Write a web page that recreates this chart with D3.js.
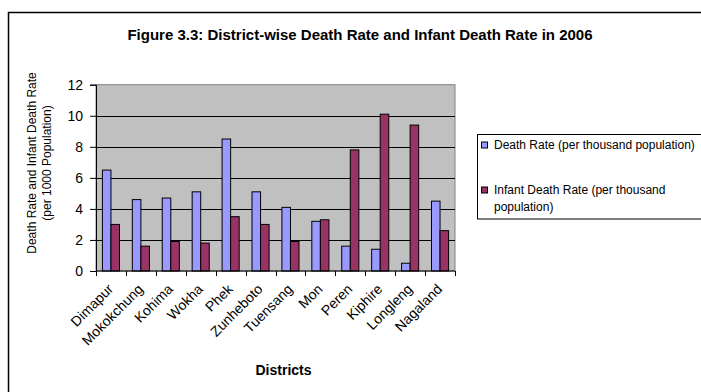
<!DOCTYPE html>
<html>
<head>
<meta charset="utf-8">
<script src="https://cdn.jsdelivr.net/npm/d3@7"></script>
<style>
  html, body { margin: 0; padding: 0; background: #fff; }
  svg { display: block; font-family: Arial, "Liberation Sans", sans-serif; }
</style>
</head>
<body>
<svg id="chart" width="701" height="392"></svg>
<script>
// District-wise death rate and infant death rate, Nagaland 2006
const districts = ["Dimapur", "Mokokchung", "Kohima", "Wokha", "Phek", "Zunheboto",
                   "Tuensang", "Mon", "Peren", "Kiphire", "Longleng", "Nagaland"];
const deathRate = [6.5, 4.6, 4.7, 5.1, 8.5, 5.1, 4.1, 3.2, 1.6, 1.4, 0.5, 4.5];
const infantDeathRate = [3.0, 1.6, 1.9, 1.8, 3.5, 3.0, 1.9, 3.3, 7.8, 10.1, 9.4, 2.6];
const yTicks = [0, 2, 4, 6, 8, 10, 12];
const seriesNames = ["Death Rate (per thousand population)",
                     ["Infant Death Rate (per thousand", "population)"]];
const seriesColors = ["#9999FF", "#993366"];

const svg = d3.select("#chart");

// outer chart frame
svg.append("rect")
  .attr("x", 8.5).attr("y", 12.5)
  .attr("width", 720).attr("height", 400)
  .attr("fill", "#fff").attr("stroke", "#000").attr("stroke-width", 1.5);

// title
svg.append("text")
  .attr("x", 360).attr("y", 39.5)
  .attr("text-anchor", "middle")
  .attr("font-size", 15).attr("font-weight", "bold")
  .text("Figure 3.3: District-wise Death Rate and Infant Death Rate in 2006");

const plot = { left: 96, right: 455, top: 84.7, bottom: 271 };

const x = d3.scaleBand().domain(districts).range([plot.left, plot.right]).padding(0);
const y = d3.scaleLinear().domain([0, 12]).range([plot.bottom, plot.top]);

// plot background
svg.append("rect")
  .attr("x", plot.left).attr("y", plot.top)
  .attr("width", plot.right - plot.left).attr("height", plot.bottom - plot.top)
  .attr("fill", "#C0C0C0").attr("stroke", "#808080").attr("stroke-width", 1);

// horizontal gridlines
svg.append("g").selectAll("line")
  .data(yTicks.filter(d => d > 0 && d < 12))
  .join("line")
  .attr("x1", plot.left).attr("x2", plot.right)
  .attr("y1", d => Math.round(y(d)) + 0.5).attr("y2", d => Math.round(y(d)) + 0.5)
  .attr("stroke", "#000").attr("stroke-width", 1);

// bars: gap width 150% of a bar, two bars per category
const bw = x.bandwidth() / 3.5;
const groups = svg.append("g").selectAll("g")
  .data(districts)
  .join("g")
  .attr("transform", d => `translate(${x(d) + 0.75 * bw},0)`);

groups.append("rect")
  .attr("x", 0)
  .attr("y", (d, i) => y(deathRate[i]))
  .attr("width", bw)
  .attr("height", (d, i) => y(0) - y(deathRate[i]))
  .attr("fill", seriesColors[0]).attr("stroke", "#000").attr("stroke-width", 1);

groups.append("rect")
  .attr("x", bw)
  .attr("y", (d, i) => y(infantDeathRate[i]))
  .attr("width", bw)
  .attr("height", (d, i) => y(0) - y(infantDeathRate[i]))
  .attr("fill", seriesColors[1]).attr("stroke", "#000").attr("stroke-width", 1);

// y axis
const yAxis = svg.append("g")
  .attr("transform", `translate(${plot.left},0)`)
  .call(d3.axisLeft(y).tickValues(yTicks).tickSize(6).tickPadding(7).tickFormat(d3.format("d")));
yAxis.select(".domain").attr("stroke", "#000");
yAxis.selectAll(".tick line").attr("stroke", "#000");
yAxis.selectAll("text").attr("font-size", 14).attr("font-family", "Arial, 'Liberation Sans', sans-serif").attr("fill", "#000");

// x axis: ticks at category boundaries
const xAxisG = svg.append("g");
xAxisG.append("line")
  .attr("x1", plot.left).attr("x2", plot.right)
  .attr("y1", plot.bottom).attr("y2", plot.bottom)
  .attr("stroke", "#000");
xAxisG.selectAll("line.tk")
  .data(districts.concat(["end"]))
  .join("line").attr("class", "tk")
  .attr("x1", (d, i) => Math.round(plot.left + i * x.bandwidth()) + 0.5)
  .attr("x2", (d, i) => Math.round(plot.left + i * x.bandwidth()) + 0.5)
  .attr("y1", plot.bottom).attr("y2", plot.bottom + 5)
  .attr("stroke", "#000");

xAxisG.selectAll("text")
  .data(districts)
  .join("text")
  .attr("transform", d => `translate(${x(d) + x.bandwidth() / 2 - 4},${plot.bottom + 12}) rotate(-45)`)
  .attr("text-anchor", "end")
  .attr("dy", "0.71em")
  .attr("font-size", 14)
  .text(d => d);

// axis titles
svg.append("text")
  .attr("x", 283.5).attr("y", 375)
  .attr("text-anchor", "middle")
  .attr("font-size", 14).attr("font-weight", "bold")
  .text("Districts");

const yTitle = svg.append("text")
  .attr("transform", "translate(0,163) rotate(-90)")
  .attr("text-anchor", "middle")
  .attr("font-size", 12);
yTitle.append("tspan").attr("x", 0).attr("y", 36).text("Death Rate and Infant Death Rate");
yTitle.append("tspan").attr("x", 0).attr("y", 51).text("(per 1000 Population)");

// legend
const legend = svg.append("g");
legend.append("rect")
  .attr("x", 477.5).attr("y", 134.5)
  .attr("width", 240).attr("height", 84.5)
  .attr("fill", "#fff").attr("stroke", "#000").attr("stroke-width", 1);

const legendRows = [145, 190];
legend.selectAll("rect.sw")
  .data(seriesColors)
  .join("rect").attr("class", "sw")
  .attr("x", 481.5).attr("y", (d, i) => legendRows[i] - 3)
  .attr("width", 6).attr("height", 6)
  .attr("fill", d => d).attr("stroke", "#000").attr("stroke-width", 1);

legend.selectAll("text")
  .data(seriesNames)
  .join("text")
  .attr("font-size", 12)
  .each(function (d, i) {
    const lines = Array.isArray(d) ? d : [d];
    d3.select(this).selectAll("tspan")
      .data(lines)
      .join("tspan")
      .attr("x", 494)
      .attr("y", (l, j) => legendRows[i] + 4.3 + j * 17)
      .text(l => l);
  });
</script>
</body>
</html>
